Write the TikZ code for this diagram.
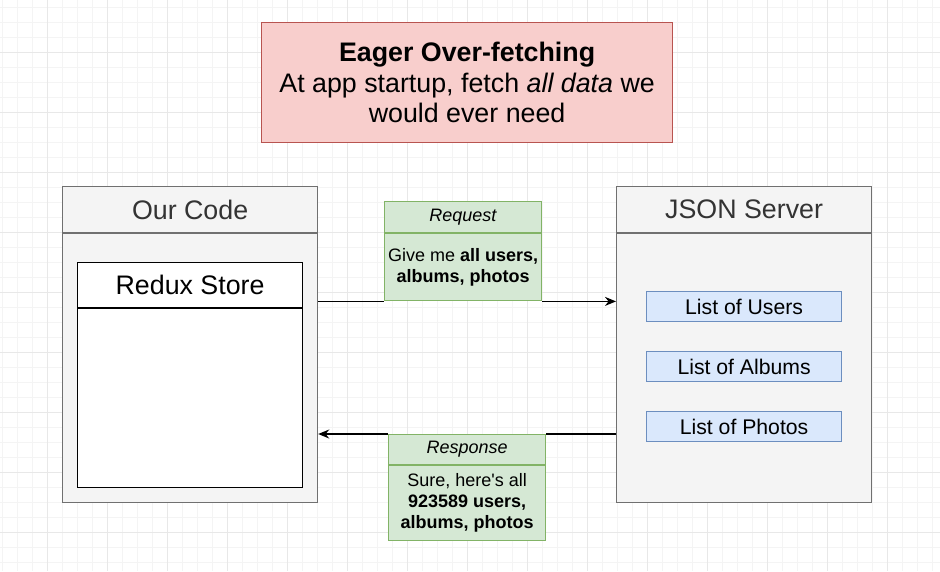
\documentclass[tikz,border=0pt]{standalone}
\usepackage{fontspec}
\setmainfont[Ligatures = TeXOff]{Liberation Sans}
\usetikzlibrary{arrows.meta}

\definecolor{titlefill}{HTML}{F8CECC}
\definecolor{titleline}{HTML}{B85450}
\definecolor{lanefill}{HTML}{F4F4F4}
\definecolor{laneline}{HTML}{707070}
\definecolor{lanetext}{HTML}{333333}
\definecolor{listfill}{HTML}{DAE8FC}
\definecolor{listline}{HTML}{6C8EBF}
\definecolor{msgfill}{HTML}{D5E8D4}
\definecolor{msgline}{HTML}{82B366}
\definecolor{gridminor}{HTML}{F4F4F4}
\definecolor{gridmajor}{HTML}{E8E8E8}

\tikzset{
	box/.style = {draw, line width = 1.2pt, inner sep = 0pt, anchor = north west},
	lanehead/.style = {box, fill = lanefill, draw = laneline, text = lanetext,
		font = \fontsize{26.8}{30}\selectfont, minimum width = 255pt, minimum height = 46pt},
	lanebody/.style = {box, fill = lanefill, draw = laneline,
		minimum width = 255pt, minimum height = 269pt},
	storebox/.style = {box, fill = white, draw = black, minimum width = 225pt,
		font = \fontsize{26.8}{30}\selectfont},
	listbox/.style = {box, fill = listfill, draw = listline, minimum width = 195pt,
		minimum height = 30pt, font = \fontsize{21.2}{24}\selectfont},
	msgbox/.style = {box, fill = msgfill, draw = msgline, minimum width = 157pt,
		align = center, font = \fontsize{18}{21}\selectfont},
	link/.style = {line width = 1.4pt}
}

\begin{document}
\begin{tikzpicture}[x = 1pt, y = -1pt, > = {Stealth[length = 11pt, width = 9pt]}]

	\useasboundingbox (0, 0) rectangle (940, 571);
	\fill [white] (0, 0) rectangle (940, 571);

	% Grid

	\foreach \x in {2, 17, ..., 940}
		\draw [gridminor, line width = 0.8pt] (\x, 0) -- (\x, 571);
	\foreach \y in {7, 22, ..., 571}
		\draw [gridminor, line width = 0.8pt] (0, \y) -- (940, \y);
	\foreach \x in {47, 107, ..., 940}
		\draw [gridmajor, line width = 0.8pt] (\x, 0) -- (\x, 571);
	\foreach \y in {52, 112, ..., 571}
		\draw [gridmajor, line width = 0.8pt] (0, \y) -- (940, \y);

	% Title

	\node [box, fill = titlefill, draw = titleline, minimum width = 411pt,
		minimum height = 120pt, align = center,
		font = \fontsize{26.8}{30.5}\selectfont] (title) at (261, 22)
		{\textbf{Eager Over-fetching}\\At app startup, fetch \textit{all data} we\\would ever need};

	% Our Code

	\node [lanehead] (codehead) at (62, 186) {Our Code};
	\node [lanebody] (codebody) at (codehead.south west) {};
	\node [storebox, minimum height = 45pt] (storehead) at (77, 262) {Redux Store};
	\node [storebox, minimum height = 179pt] (storebody) at (storehead.south west) {};

	% JSON Server

	\node [lanehead] (serverhead) at (616, 186) {JSON Server};
	\node [lanebody] (serverbody) at (serverhead.south west) {};
	\node [listbox] (users) at (646, 291) {List of Users};
	\node [listbox] (albums) at (646, 351) {List of Albums};
	\node [listbox] (photos) at (646, 411) {List of Photos};

	% Request

	\node [msgbox, minimum height = 31pt] (reqhead) at (384, 201) {\textit{Request}};
	\node [msgbox, minimum height = 67pt] (reqbody) at (reqhead.south west)
		{Give me \textbf{all users,}\\\textbf{albums, photos}};
	\draw [link] (codebody.east |- reqbody.south) -- (reqbody.south west);
	\draw [link, ->] (reqbody.south east) -- (serverbody.west |- reqbody.south);

	% Response

	\node [msgbox, minimum height = 30pt] (resphead) at (388, 434) {\textit{Response}};
	\node [msgbox, minimum height = 75pt] (respbody) at (resphead.south west)
		{Sure, here's all\\\textbf{923589 users,}\\\textbf{albums, photos}};
	\draw [link] (serverbody.west |- resphead.north) -- (resphead.north east);
	\draw [link, ->] (resphead.north west) -- (codebody.east |- resphead.north);

\end{tikzpicture}
\end{document}
